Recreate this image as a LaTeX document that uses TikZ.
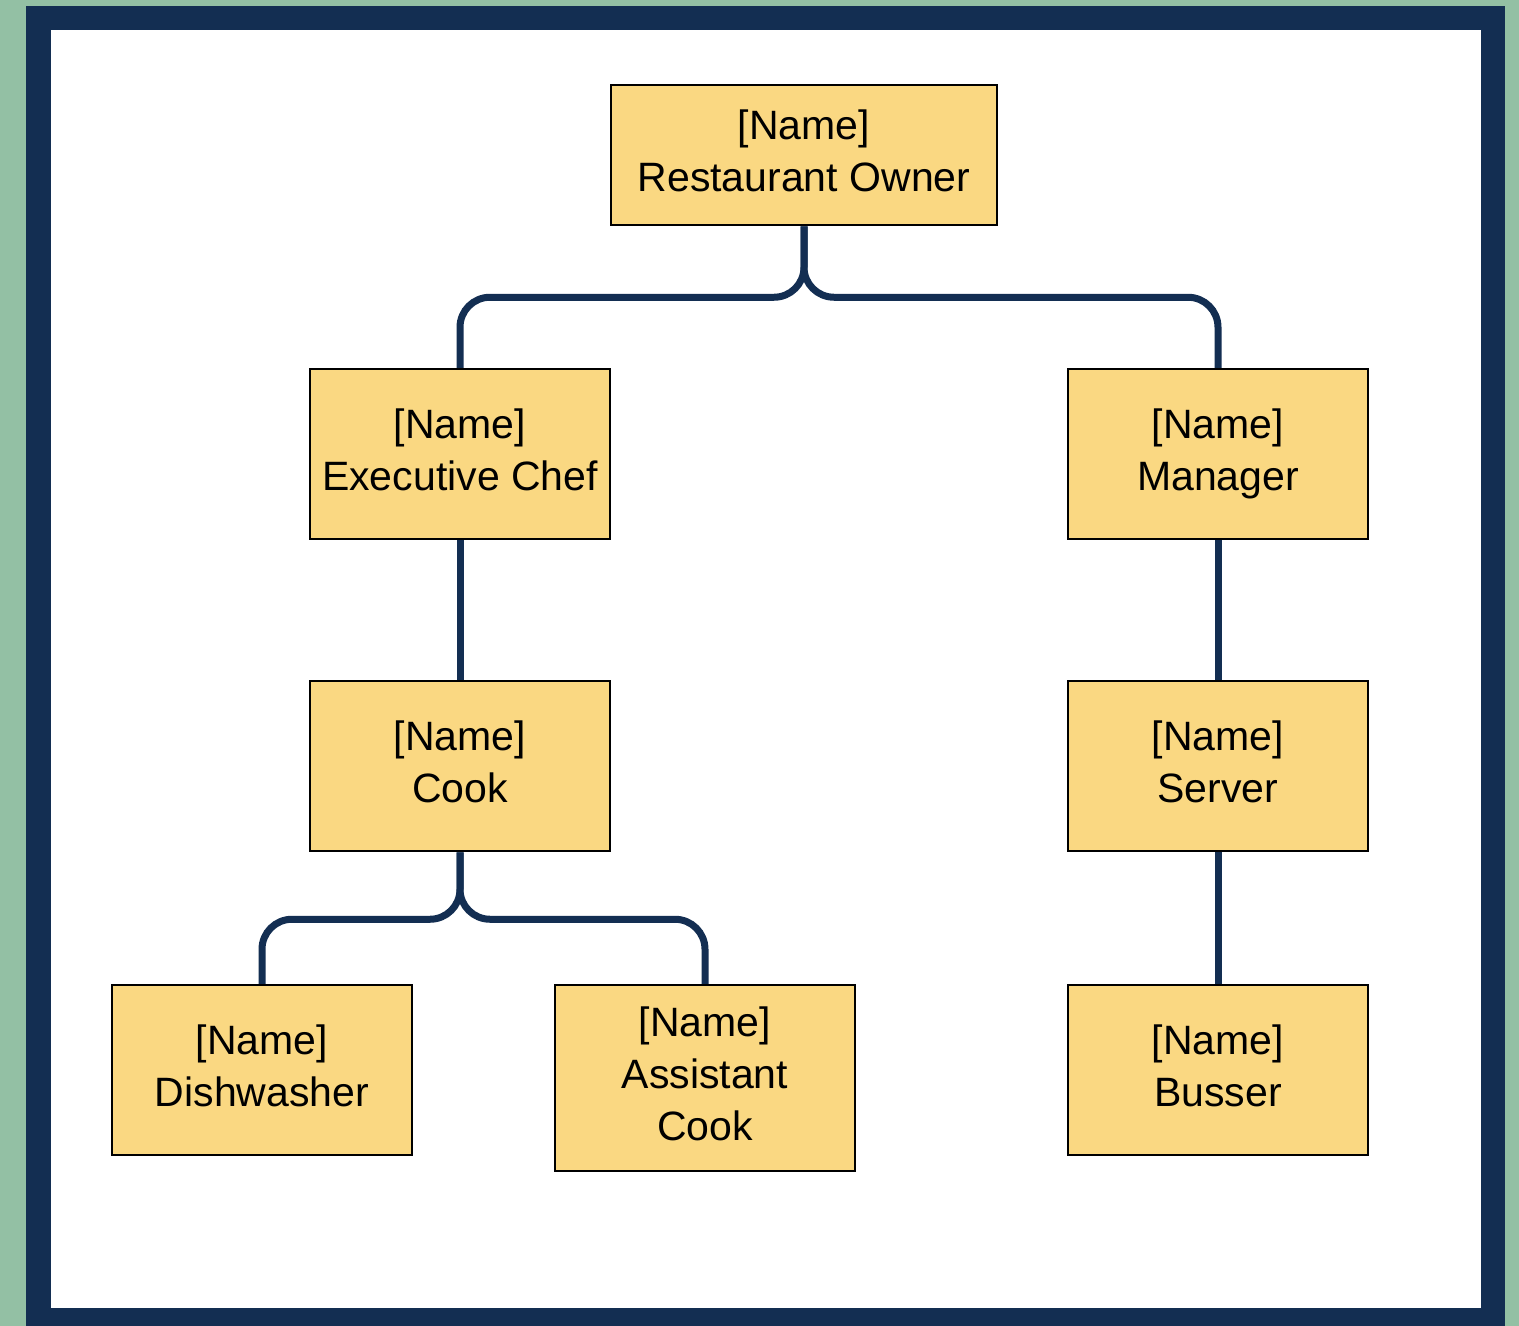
\documentclass[tikz,border=0pt]{standalone}
\usepackage{fontspec}
\setmainfont{Liberation Sans}
\definecolor{bggreen}{HTML}{93C0A4}
\definecolor{navy}{HTML}{132E52}
\definecolor{boxfill}{HTML}{FAD882}
\tikzset{
  orgbox/.style={draw=black, line width=2.5pt, fill=boxfill, minimum width=300pt, minimum height=170pt,
    inner sep=0pt, align=center, font=\fontsize{41}{52}\selectfont},
  conn/.style={draw=navy, line width=7pt, rounded corners=30pt}
}
\begin{document}
\begin{tikzpicture}[x=1pt,y=-1pt]
\useasboundingbox (0,0) rectangle (1519,1326);
\fill[bggreen] (0,0) rectangle (1519,1326);
\fill[navy] (26,6) rectangle (1505,1326);
\fill[white] (51,30) rectangle (1481,1308);

\node[orgbox, minimum width=386pt, minimum height=140pt] (owner) at (804,155) {\strut[Name]\\\strut Restaurant Owner};
\node[orgbox] (chef) at (460,454) {\strut[Name]\\\strut Executive Chef};
\node[orgbox] (manager) at (1218,454) {\strut[Name]\\\strut Manager};
\node[orgbox] (cook) at (460,766) {\strut[Name]\\\strut Cook};
\node[orgbox] (server) at (1218,766) {\strut[Name]\\\strut Server};
\node[orgbox] (dish) at (262,1070) {\strut[Name]\\\strut Dishwasher};
\node[orgbox, minimum height=186pt] (asst) at (705,1078) {\strut[Name]\\\strut Assistant\\\strut Cook};
\node[orgbox] (busser) at (1218,1070) {\strut[Name]\\\strut Busser};

\draw[conn] (owner.south) -- ++(0,71) -| (chef.north);
\draw[conn] (owner.south) -- ++(0,71) -| (manager.north);
\draw[conn] (chef.south) -- (cook.north);
\draw[conn] (manager.south) -- (server.north);
\draw[conn] (server.south) -- (busser.north);
\draw[conn] (cook.south) -- ++(0,67) -| (dish.north);
\draw[conn] (cook.south) -- ++(0,67) -| (asst.north);
\end{tikzpicture}
\end{document}
